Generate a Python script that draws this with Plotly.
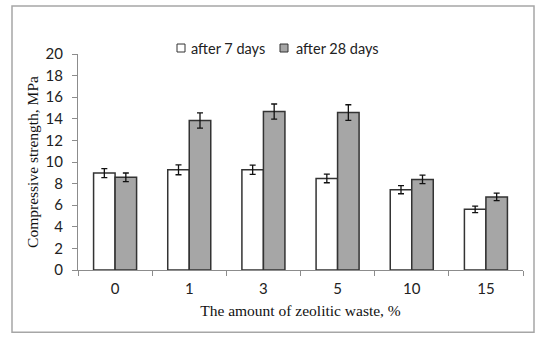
import plotly.graph_objects as go

categories = ["0", "1", "3", "5", "10", "15"]
series_names = ["after 7 days", "after 28 days"]
days7 = [8.97, 9.28, 9.28, 8.48, 7.44, 5.62]
days7_err = [0.41, 0.46, 0.43, 0.40, 0.38, 0.30]
days28 = [8.58, 13.84, 14.67, 14.58, 8.39, 6.77]
days28_err = [0.40, 0.70, 0.70, 0.72, 0.40, 0.34]
y_ticks = [0, 2, 4, 6, 8, 10, 12, 14, 16, 18, 20]

fills = ["#ffffff", "#a6a6a6"]
tick_font = dict(family="Lato, Open Sans, sans-serif", size=15, color="#222222")
serif = dict(family="Liberation Serif, Times New Roman, serif", size=15.5, color="#111111")

fig = go.Figure()
for name, vals, errs, col in [(series_names[0], days7, days7_err, fills[0]),
                              (series_names[1], days28, days28_err, fills[1])]:
    fig.add_trace(go.Bar(
        x=categories, y=vals, name=name,
        marker=dict(color=col, line=dict(color="#333333", width=1.5)),
        error_y=dict(type="data", array=errs, visible=True, color="#111111",
                     thickness=1.3, width=3),
        showlegend=False, hoverinfo="skip",
    ))

fig.update_layout(
    width=550, height=344,
    margin=dict(l=78, r=27, t=54, b=73.5),
    paper_bgcolor="white", plot_bgcolor="white",
    barmode="group", bargap=0.42, bargroupgap=0,
    xaxis=dict(type="category", showline=True, linecolor="#8c8c8c", linewidth=1,
               ticks="outside", tickson="boundaries", ticklen=5, tickcolor="#8c8c8c",
               tickfont=tick_font, showgrid=False, ticklabelstandoff=5,
               title=dict(text="The amount of zeolitic waste, %", font=serif, standoff=9)),
    yaxis=dict(range=[0, 20], tickvals=y_ticks, showline=True, linecolor="#8c8c8c",
               linewidth=1, ticks="outside", ticklen=5, tickcolor="#8c8c8c",
               tickfont=tick_font, showgrid=False, zeroline=False, ticklabelstandoff=6,
               title=dict(text="Compressive strength, MPa", font=serif, standoff=3)),
)

# outer chart border
fig.add_shape(type="rect", xref="paper", yref="paper",
              x0=(12 - 78) / 445, x1=(534 - 78) / 445,
              y0=(270.5 - 333) / 216.5, y1=(270.5 - 6) / 216.5,
              line=dict(color="#a6a6a6", width=1.5), fillcolor="rgba(0,0,0,0)")

# custom legend
leg_font = dict(family="Lato, Open Sans, sans-serif", size=14.5, color="#222222")
legend_pos = [(177, 189), (280, 294)]
ly = 48
for (bx, tx), name, col in zip(legend_pos, series_names, fills):
    fig.add_shape(type="rect", xref="paper", yref="paper",
                  x0=(bx - 78) / 445, x1=(bx + 8 - 78) / 445,
                  y0=(270.5 - (ly + 4)) / 216.5, y1=(270.5 - (ly - 4)) / 216.5,
                  line=dict(color="#333333", width=1), fillcolor=col)
    fig.add_annotation(xref="paper", yref="paper", x=(tx - 78) / 445,
                       y=(270.5 - ly) / 216.5, text=name, showarrow=False,
                       xanchor="left", yanchor="middle", font=leg_font)

fig.write_html("out.html", config={"displayModeBar": False},
               post_script="document.body.style.margin='0';document.body.style.padding='0';")
